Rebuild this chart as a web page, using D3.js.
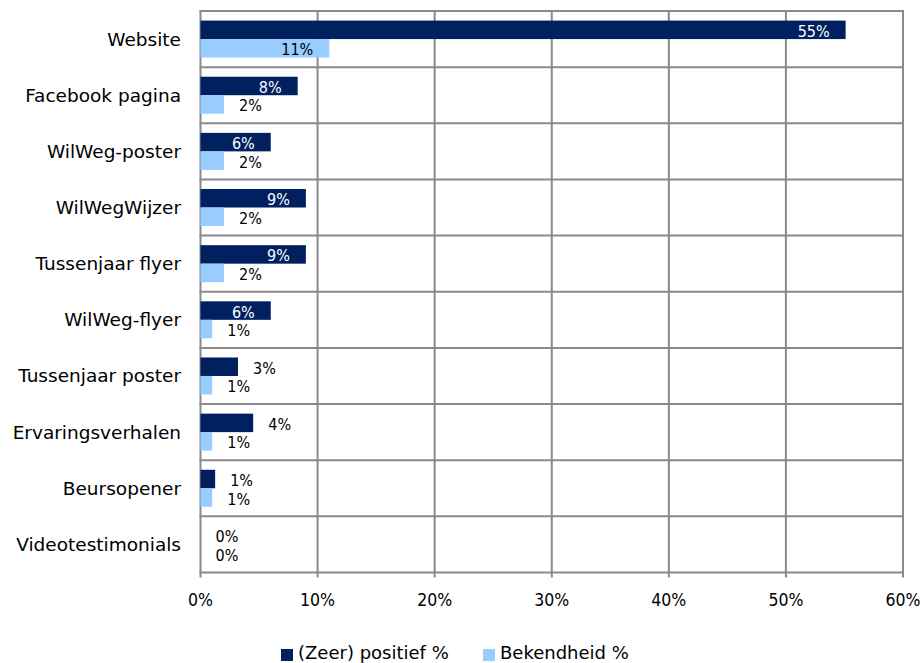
<!DOCTYPE html>
<html><head><meta charset="utf-8">
<script src="https://cdn.jsdelivr.net/npm/d3@7"></script>
<style>body{margin:0;background:#fff}svg{display:block}text{font-family:"DejaVu Sans",sans-serif}.num{font-family:"DejaVu Sans Condensed","DejaVu Sans",sans-serif}</style>
</head><body><svg id="c" width="923" height="663"></svg>
<script>
const categories = ["Website","Facebook pagina","WilWeg-poster","WilWegWijzer","Tussenjaar flyer","WilWeg-flyer","Tussenjaar poster","Ervaringsverhalen","Beursopener","Videotestimonials"];
const positief = [55.1, 8.3, 6.0, 9.0, 9.0, 6.0, 3.2, 4.5, 1.25, 0];
const positiefLabels = ["55%","8%","6%","9%","9%","6%","3%","4%","1%","0%"];
const bekendheid = [11.0, 2.0, 2.0, 2.0, 2.0, 1.0, 1.0, 1.0, 1.0, 0];
const bekendheidLabels = ["11%","2%","2%","2%","2%","1%","1%","1%","1%","0%"];
const xTicks = [0,10,20,30,40,50,60];
const seriesNames = ["(Zeer) positief %","Bekendheid %"];
const colors = ["#002060","#99CCFF"];

const svg = d3.select("#c");
const L = 200.5, R = 903, T = 11, B = 572.5;
const x = d3.scaleLinear().domain([0,60]).range([L,R]);
const y = d3.scaleBand().domain(categories).range([T,B]);
const grid = "#8a8a8a";

// vertical gridlines
svg.append("g").selectAll("line").data(xTicks).join("line")
  .attr("x1",d=>x(d)).attr("x2",d=>x(d)).attr("y1",T).attr("y2",B+5)
  .attr("stroke",grid).attr("stroke-width",2);
// horizontal separators
svg.append("g").selectAll("line").data(d3.range(categories.length+1)).join("line")
  .attr("x1",L-1).attr("x2",R+1).attr("y1",i=>T+i*y.step()).attr("y2",i=>T+i*y.step())
  .attr("stroke",grid).attr("stroke-width",2);

const barH = 18.5;
const series = [
  {vals:positief, labs:positiefLabels, off:-barH, color:colors[0], inColor:"#fff"},
  {vals:bekendheid, labs:bekendheidLabels, off:0, color:colors[1], inColor:"#000"}
];
series.forEach(s=>{
  const g = svg.append("g");
  g.selectAll("rect").data(categories).join("rect")
    .attr("x",x(0)).attr("width",(c,i)=>x(s.vals[i])-x(0))
    .attr("y",c=>y(c)+y.bandwidth()/2+s.off).attr("height",barH)
    .attr("fill",s.color);
  g.selectAll("text").data(categories).join("text")
    .attr("class","num").attr("font-size",16)
    .attr("y",c=>y(c)+y.bandwidth()/2+s.off+barH/2+7)
    .text((c,i)=>s.labs[i])
    .each(function(c,i){
      const t = d3.select(this);
      const w = this.getComputedTextLength();
      const bw = x(s.vals[i])-x(0);
      const end = x(s.vals[i]);
      if (bw >= w + 34) {
        t.attr("text-anchor","end").attr("x",end-16).attr("fill",s.inColor);
      } else {
        t.attr("text-anchor","middle").attr("x",end+26.5).attr("fill","#000");
      }
    });
});

// category labels
svg.append("g").selectAll("text").data(categories).join("text")
  .attr("x",181).attr("y",c=>y(c)+y.bandwidth()/2+6.5)
  .attr("text-anchor","end").attr("font-size",18.5).attr("fill","#000").text(c=>c);

// x tick labels
svg.append("g").selectAll("text").data(xTicks).join("text")
  .attr("class","num")
  .attr("x",d=>x(d)).attr("y",606).attr("text-anchor","middle")
  .attr("font-size",17.5).attr("fill","#000").text(d=>d+"%");

// legend
const lg = svg.append("g");
const lx = [281,483];
seriesNames.forEach((n,i)=>{
  lg.append("rect").attr("x",lx[i]).attr("y",649).attr("width",12).attr("height",12).attr("fill",colors[i]);
  lg.append("text").attr("x",lx[i]+17).attr("y",659).attr("font-size",18).attr("fill","#000").text(n);
});
</script></body></html>
